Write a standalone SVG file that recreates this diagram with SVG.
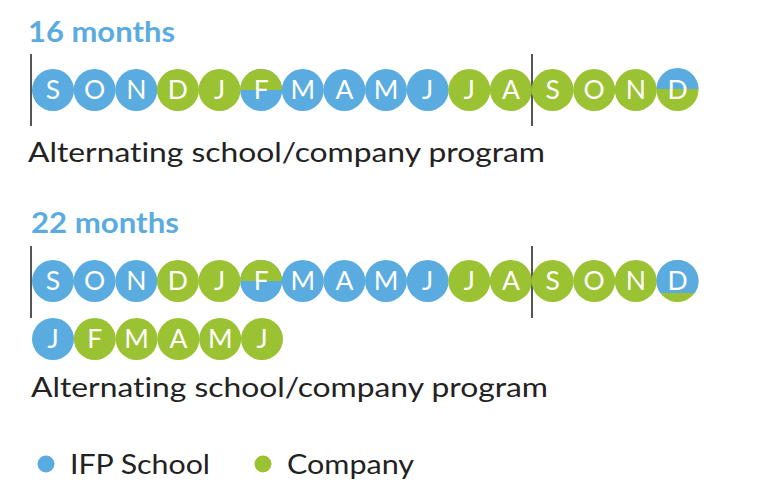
<svg xmlns="http://www.w3.org/2000/svg" width="767" height="493" viewBox="0 0 767 493">
<style>
.b{fill:#5aace0}
.g{fill:#9bc232}
.m{font-family:Lato,"Open Sans",sans-serif;font-size:26.5px;font-weight:400;fill:#fff;text-anchor:middle}
.t{font-family:Lato,"Open Sans",sans-serif;font-size:28px;font-weight:bold;fill:#5aace0}
.l{font-family:Lato,"Open Sans",sans-serif;font-size:26px;fill:#222;font-variant-ligatures:none}
.v{stroke:#555;stroke-width:2;fill:none}
</style>
<rect width="767" height="493" fill="#fff"/>
<g id="title16"><text class="t" x="28" y="42" textLength="147" lengthAdjust="spacingAndGlyphs">16 months</text></g>
<g id="dividers">
<line class="v" x1="31" y1="54" x2="31" y2="126"/>
<line class="v" x1="532" y1="54" x2="532" y2="126"/>
<line class="v" x1="31" y1="246" x2="31" y2="318"/>
<line class="v" x1="532" y1="246" x2="532" y2="318"/>
</g>
<g id="row1">
<circle class="b" cx="53" cy="90" r="21"/><text class="m" x="53" y="99">S</text>
<circle class="b" cx="94.6" cy="90" r="21"/><text class="m" x="94.6" y="99">O</text>
<circle class="b" cx="136.3" cy="90" r="21"/><text class="m" x="136.3" y="99">N</text>
<circle class="g" cx="177.9" cy="90" r="21"/><text class="m" x="177.9" y="99">D</text>
<circle class="g" cx="219.5" cy="90" r="21"/><text class="m" x="219.5" y="99">J</text>
<circle class="b" cx="261.2" cy="90" r="21"/><path class="g" d="M240.2 90 A21 21 0 0 1 282.2 90 Z"/><text class="m" x="261.2" y="99">F</text>
<circle class="b" cx="302.8" cy="90" r="21"/><text class="m" x="302.8" y="99">M</text>
<circle class="b" cx="344.4" cy="90" r="21"/><text class="m" x="344.4" y="99">A</text>
<circle class="b" cx="386" cy="90" r="21"/><text class="m" x="386" y="99">M</text>
<circle class="b" cx="427.7" cy="90" r="21"/><text class="m" x="427.7" y="99">J</text>
<circle class="g" cx="469.3" cy="90" r="21"/><text class="m" x="469.3" y="99">J</text>
<circle class="g" cx="510.9" cy="90" r="21"/><text class="m" x="510.9" y="99">A</text>
<circle class="g" cx="552.6" cy="90" r="21"/><text class="m" x="552.6" y="99">S</text>
<circle class="g" cx="594.2" cy="90" r="21"/><text class="m" x="594.2" y="99">O</text>
<circle class="g" cx="635.8" cy="90" r="21"/><text class="m" x="635.8" y="99">N</text>
<circle class="g" cx="677.5" cy="90" r="21"/><path class="b" d="M656.5 89 A21 21 0 0 1 698.5 89 Z"/><text class="m" x="677.5" y="99">D</text>
</g>
<g id="label16"><text class="l" x="28" y="162" textLength="517" lengthAdjust="spacingAndGlyphs">Alternating school/company program</text></g>
<g id="title22"><text class="t" x="31" y="233" textLength="148" lengthAdjust="spacingAndGlyphs">22 months</text></g>
<g id="row2">
<circle class="b" cx="53" cy="281" r="21"/><text class="m" x="53" y="290">S</text>
<circle class="b" cx="94.6" cy="281" r="21"/><text class="m" x="94.6" y="290">O</text>
<circle class="b" cx="136.3" cy="281" r="21"/><text class="m" x="136.3" y="290">N</text>
<circle class="g" cx="177.9" cy="281" r="21"/><text class="m" x="177.9" y="290">D</text>
<circle class="g" cx="219.5" cy="281" r="21"/><text class="m" x="219.5" y="290">J</text>
<circle class="b" cx="261.2" cy="281" r="21"/><path class="g" d="M240.2 281 A21 21 0 0 1 282.2 281 Z"/><text class="m" x="261.2" y="290">F</text>
<circle class="b" cx="302.8" cy="281" r="21"/><text class="m" x="302.8" y="290">M</text>
<circle class="b" cx="344.4" cy="281" r="21"/><text class="m" x="344.4" y="290">A</text>
<circle class="b" cx="386" cy="281" r="21"/><text class="m" x="386" y="290">M</text>
<circle class="b" cx="427.7" cy="281" r="21"/><text class="m" x="427.7" y="290">J</text>
<circle class="g" cx="469.3" cy="281" r="21"/><text class="m" x="469.3" y="290">J</text>
<circle class="g" cx="510.9" cy="281" r="21"/><text class="m" x="510.9" y="290">A</text>
<circle class="g" cx="552.6" cy="281" r="21"/><text class="m" x="552.6" y="290">S</text>
<circle class="g" cx="594.2" cy="281" r="21"/><text class="m" x="594.2" y="290">O</text>
<circle class="g" cx="635.8" cy="281" r="21"/><text class="m" x="635.8" y="290">N</text>
<circle class="g" cx="677.5" cy="281" r="21"/><path class="b" d="M660.27 293 A21 21 0 1 1 694.73 293 Z"/><text class="m" x="677.5" y="290">D</text>
</g>
<g id="row3">
<circle class="b" cx="53" cy="339" r="21"/><text class="m" x="53" y="348">J</text>
<circle class="g" cx="94.8" cy="339" r="21"/><text class="m" x="94.8" y="348">F</text>
<circle class="g" cx="136.6" cy="339" r="21"/><text class="m" x="136.6" y="348">M</text>
<circle class="g" cx="178.4" cy="339" r="21"/><text class="m" x="178.4" y="348">A</text>
<circle class="g" cx="220.2" cy="339" r="21"/><text class="m" x="220.2" y="348">M</text>
<circle class="g" cx="262" cy="339" r="21"/><text class="m" x="262" y="348">J</text>
</g>
<g id="label22"><text class="l" x="31" y="397" textLength="517" lengthAdjust="spacingAndGlyphs">Alternating school/company program</text></g>
<g id="legend-school"><circle class="b" cx="46" cy="464" r="8.5"/><text class="l" x="70" y="474" textLength="140" lengthAdjust="spacingAndGlyphs">IFP School</text></g>
<g id="legend-company"><circle class="g" cx="263" cy="464" r="8.5"/><text class="l" x="287" y="474" textLength="127" lengthAdjust="spacingAndGlyphs">Company</text></g>
</svg>
